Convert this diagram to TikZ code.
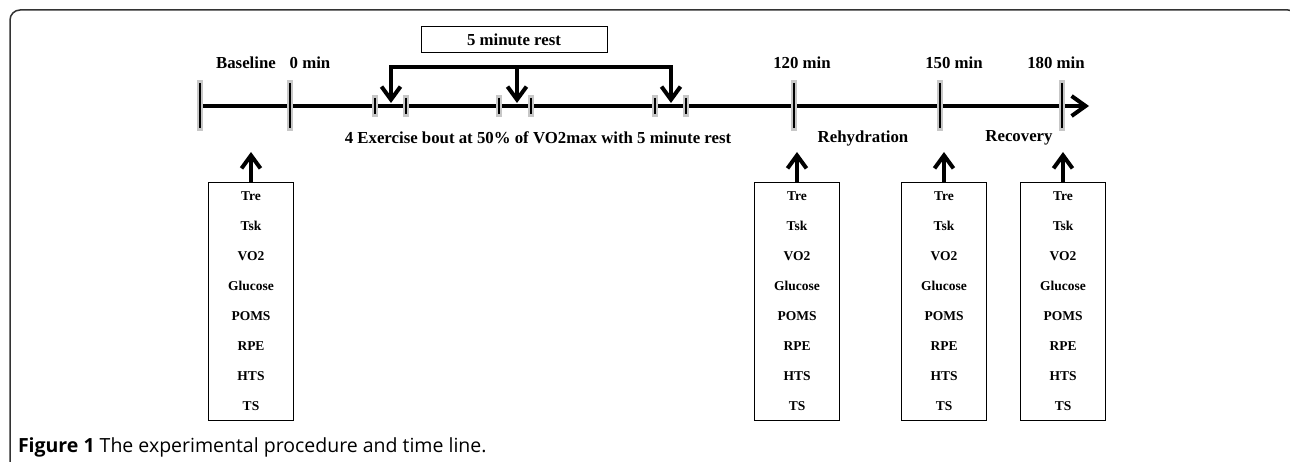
\documentclass[tikz,border=0pt]{standalone}
\usepackage{fontspec}
\setmainfont{Liberation Serif}
\newfontfamily\capfont{Open Sans}
\usetikzlibrary{arrows.meta}
\tikzset{inner sep=0pt, outer sep=0pt,
  bigtick/.style={fill=black!22, minimum width=6pt, minimum height=51pt,
    path picture={\draw[line width=2.2pt] ([yshift=-3pt]path picture bounding box.north) -- ([yshift=3pt]path picture bounding box.south);}},
  smalltick/.style={bigtick, minimum height=22pt},
  timelabel/.style={font=\bfseries\fontsize{16.8}{19}\selectfont},
  measbox/.style={draw, line width=1pt, minimum width=85pt, minimum height=237pt,
    align=center, font=\bfseries\fontsize{13.5}{30}\selectfont},
  barb/.style={line width=4pt, -{Straight Barb[length=13pt, width=19pt]}},
  restbarbs/.style={barb, {Straight Barb[length=13pt, width=19pt]}-{Straight Barb[length=13pt, width=19pt]}}
}

\begin{document}
\begin{tikzpicture}[x=1pt, y=-1pt]
\useasboundingbox (0,0) rectangle (1290,462);
% frame
\draw[line width=1.5pt, black!80, rounded corners=10pt] (10,475) -- (10,10) -- (1298,10) -- (1298,475);

% time line
\coordinate (tlend) at (1089,106);
\node (tickb) at (200,106) {};
\draw[line width=4pt, -{Straight Barb[length=14pt, width=20pt]}] (tickb.center) -- (tlend);
\foreach \n/\x in {b/200,0/290,120/794,150/940,180/1062} {
  \node[bigtick] (tick\n) at (\x,106) {};
} % end of \foreach \n
\foreach \x in {375,406,499,531,655,686} {
  \node[smalltick] (st\x) at (\x,106) {};
} % end of \foreach \x

% 5 minute rest
\node[draw, line width=1pt, minimum width=186pt, minimum height=26pt,
  font=\bfseries\fontsize{16.8}{19}\selectfont] (restbox) at (514,40) {5 minute rest};
\coordinate (rest1) at (391,103);
\coordinate (rest2) at (517,103);
\coordinate (rest3) at (671,103);
\draw[restbarbs] (rest1) -- ++(0,-36) -| (rest3);
\draw[barb] (rest2) ++(0,-36) -- (rest2);

% labels
\node[timelabel] (lbase) at (246,63) {Baseline};
\node[timelabel] (l0) at (310,63) {0 min};
\node[timelabel] (l120) at (802,63) {120 min};
\node[timelabel] (l150) at (954,63) {150 min};
\node[timelabel] (l180) at (1056,63) {180 min};
\node[timelabel] (lexer) at (538,138) {4 Exercise bout at 50\% of VO2max with 5 minute rest};
\node[timelabel] (lrehyd) at (863,138) {Rehydration};
\node[timelabel] (lrecov) at (1019,138) {Recovery};

% measurements
\foreach \n/\x in {b/251,120/797,150/944,180/1063} {
  \node[measbox] (box\n) at (\x,301.5) {Tre\\Tsk\\VO2\\Glucose\\POMS\\RPE\\HTS\\TS};
  \draw[barb] (box\n.north) -- ++(0,-31);
} % end of \foreach \n

\node[anchor=west, font=\capfont\fontsize{19.5}{22}\selectfont] (caption) at (18,447)
  {\textbf{Figure 1} The experimental procedure and time line.};
\end{tikzpicture}
\end{document}
